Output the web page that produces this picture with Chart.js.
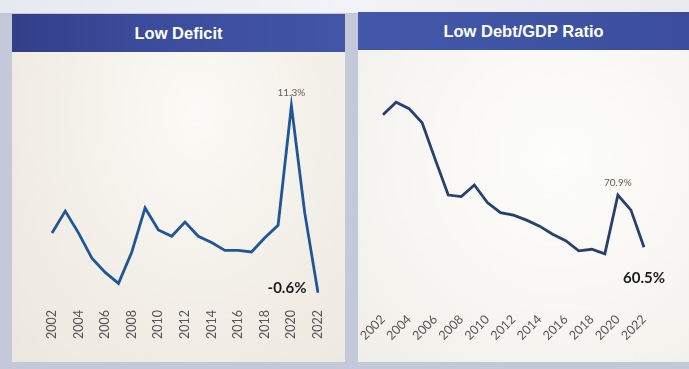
<!DOCTYPE html>
<html><head><meta charset="utf-8">
<script src="https://cdn.jsdelivr.net/npm/chart.js@4.4.1/dist/chart.umd.min.js"></script>
<style>
html,body{margin:0;padding:0;}
body{width:689px;height:369px;position:relative;overflow:hidden;background:#c3c9d8;}
#topstrip{position:absolute;left:0;top:0;width:689px;height:13px;background:linear-gradient(90deg,#e6e9f0,#f2f3f6 50%,#e9ebf1);}
.panel{position:absolute;}
.title{position:absolute;left:0;top:0;height:38px;color:#fff;font-family:"Liberation Sans",Arial,sans-serif;font-weight:bold;font-size:16.5px;line-height:38px;text-align:center;}
.body{position:absolute;left:0;}
canvas{display:block;}
</style></head>
<body>
<div id="topstrip"></div>
<div class="panel" id="pl" style="left:12px;top:14px;width:333px;height:348px;">
  <div class="title" style="width:333px;background:linear-gradient(90deg,#323e88,#3c4c9c 40%,#4255a6);">Low Deficit</div>
  <div class="body" style="top:38px;width:333px;height:310px;background:radial-gradient(ellipse at 55% 20%,#fbfaf6 0%,#f4f1ea 45%,#ece7de 100%);"><canvas id="c1" width="333" height="310"></canvas></div>
</div>
<div class="panel" id="pr" style="left:358px;top:12px;width:331px;height:350px;">
  <div class="title" style="width:331px;background:linear-gradient(90deg,#4257a9,#3f53a3 60%,#3b4d9c);">Low Debt/GDP Ratio</div>
  <div class="body" style="top:38px;width:331px;height:312px;background:radial-gradient(ellipse at 60% 35%,#fdfdfb 0%,#f8f7f3 50%,#efeee9 100%);"><canvas id="c2" width="331" height="312"></canvas></div>
</div>
<script>
const years = ["2002","2003","2004","2005","2006","2007","2008","2009","2010","2011","2012","2013","2014","2015","2016","2017","2018","2019","2020","2021","2022"];
const deficit = [3.2,4.6,3.2,1.6,0.7,0.0,2.0,4.8,3.4,3.0,3.9,3.0,2.6,2.1,2.1,2.0,2.9,3.7,11.3,4.5,-0.6];
const debtGdp = [86.9,89.4,88.1,85.3,78.0,70.9,70.6,72.9,69.4,67.4,66.9,65.9,64.7,63.1,61.8,59.8,60.1,59.2,70.9,67.9,60.5];

function labelPlugin(specs){
  return {
    id:'valLabels',
    afterDatasetsDraw(chart){
      const ctx = chart.ctx;
      const meta = chart.getDatasetMeta(0);
      const data = chart.data.datasets[0].data;
      specs.forEach(s=>{
        const p = meta.data[s.index];
        ctx.save();
        ctx.font = s.font;
        ctx.fillStyle = s.color;
        ctx.textAlign = 'center';
        ctx.textBaseline = 'middle';
        ctx.fillText(data[s.index].toFixed(1)+'%', p.x + s.dx, p.y + s.dy);
        ctx.restore();
      });
    }
  };
}

function makeChart(id, values, color, yMin, yMax, pad, axisH, rot, tickPad, fontSize, specs){
  new Chart(document.getElementById(id), {
    type:'line',
    data:{labels:years, datasets:[{data:values, borderColor:color, borderWidth:2.8, pointRadius:0, tension:0, fill:false, borderJoinStyle:'miter'}]},
    options:{
      responsive:false, animation:false,
      layout:{padding:pad},
      plugins:{legend:{display:false}, tooltip:{enabled:false}},
      scales:{
        x:{
          grid:{display:false, drawTicks:false}, border:{display:false},
          ticks:{autoSkip:false, minRotation:rot, maxRotation:rot, padding:tickPad, color:'#555', font:{family:'Lato', size:fontSize},
            callback:function(v,i){ return i%2===0 ? this.getLabelForValue(v) : null; }},
          afterFit:s=>{ s.height = axisH; s.paddingLeft = 0; s.paddingRight = 0; }
        },
        y:{display:false, min:yMin, max:yMax}
      }
    },
    plugins:[labelPlugin(specs)]
  });
}

makeChart('c1', deficit, '#1f5698', -1.5, 13, {left:40, right:27, top:27, bottom:15}, 40, 90, 3, 12.5, [
  {index:18, dx:0, dy:-13, font:'10px Lato', color:'#6a5a55'},
  {index:20, dx:-31, dy:-5, font:'bold 15px Lato', color:'#1c1c1c'}
]);
makeChart('c2', debtGdp, '#27406f', 50, 95, {left:25, right:45, top:24, bottom:12}, 50, 45, 12, 12.5, [
  {index:18, dx:0, dy:-12, font:'10px Lato', color:'#6a5a55'},
  {index:20, dx:0, dy:31, font:'bold 15px Lato', color:'#1c1c1c'}
]);
</script>
</body></html>
